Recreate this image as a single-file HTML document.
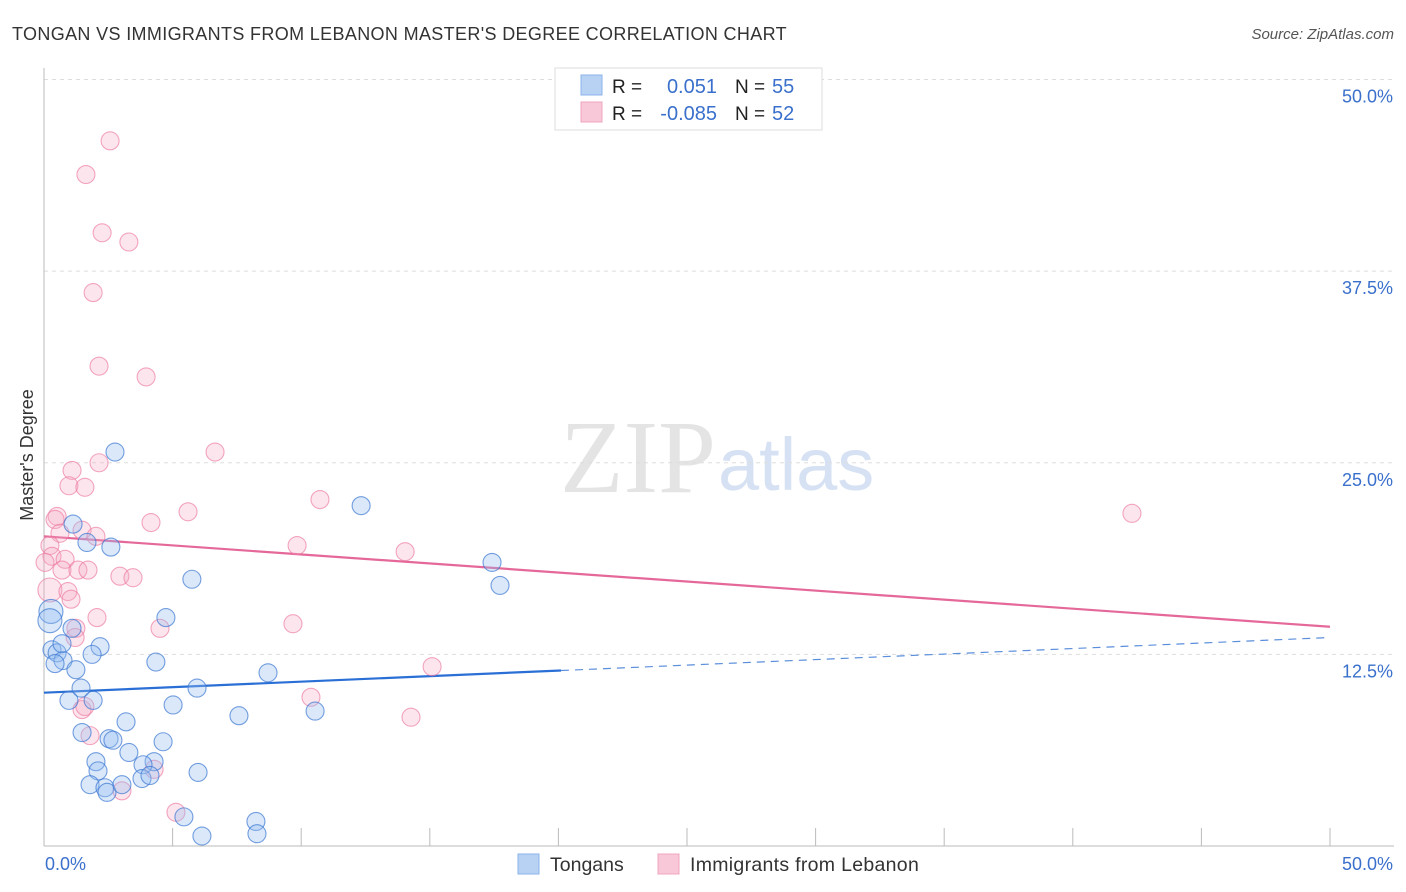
<!DOCTYPE html>
<html><head><meta charset="utf-8"><style>
body{margin:0;background:#fff;font-family:"Liberation Sans",sans-serif;}
#wrap{position:relative;width:1406px;height:892px;overflow:hidden}
</style></head><body>
<div id="wrap">
<svg id="svg" width="1406" height="892" xmlns="http://www.w3.org/2000/svg">
<text x="12" y="40" font-size="18" fill="#333" letter-spacing="0.35">TONGAN VS IMMIGRANTS FROM LEBANON MASTER'S DEGREE CORRELATION CHART</text>
<text x="1394" y="39" font-size="15" fill="#555" font-style="italic" text-anchor="end">Source: ZipAtlas.com</text>
<text x="33" y="455" font-size="18" fill="#333" text-anchor="middle" transform="rotate(-90 33 455)">Master's Degree</text>
<text x="716" y="492" font-size="104" fill="#e4e4e4" text-anchor="end" font-family="Liberation Serif,serif">ZIP</text>
<text x="718" y="490" font-size="74" fill="#d6e2f3">atlas</text>
<g id="grid"></g><g id="axes"></g><g id="lines"></g><g id="pts"></g>
<g>
<rect x="555" y="68" width="267" height="62" fill="#fff" stroke="#ddd"/>
<rect x="581" y="75" width="21" height="20" fill="#b8d2f4" stroke="#8cb3ea"/>
<rect x="581" y="102" width="21" height="20" fill="#f9c8d8" stroke="#f0a4bd"/>
<text x="612" y="93" font-size="19" fill="#222">R =</text><text x="717" y="93" font-size="20" fill="#3a70cc" text-anchor="end">0.051</text>
<text x="735" y="93" font-size="19" fill="#222">N =</text><text x="772" y="93" font-size="20" fill="#3a70cc">55</text>
<text x="612" y="120" font-size="19" fill="#222">R =</text><text x="717" y="120" font-size="20" fill="#3a70cc" text-anchor="end">-0.085</text>
<text x="735" y="120" font-size="19" fill="#222">N =</text><text x="772" y="120" font-size="20" fill="#3a70cc">52</text>
</g>
<g>
<rect x="518" y="854" width="21" height="20" fill="#b8d2f4" stroke="#8cb3ea"/>
<text x="550" y="871" font-size="19.5" fill="#333">Tongans</text>
<rect x="658" y="854" width="21" height="20" fill="#f9c8d8" stroke="#f0a4bd"/>
<text x="690" y="871" font-size="19.5" fill="#333" letter-spacing="0.3">Immigrants from Lebanon</text>
</g>
</svg>
</div>
<script>
const yTicks=[12.5,25,37.5,50];
const yTickLabels=["12.5%","25.0%","37.5%","50.0%"];
const xTicks=[0,5,10,15,20,25,30,35,40,45,50];
const blueX=[2.76,1.13,1.67,2.60,5.75,4.74,1.09,0.27,0.23,0.31,0.51,0.74,0.43,0.70,1.24,2.18,1.87,4.35,8.71,5.95,1.44,0.97,1.91,5.02,7.58,10.54,3.19,1.48,2.53,2.68,4.63,3.30,2.02,2.10,4.28,3.85,3.81,4.12,5.99,1.79,2.37,2.45,3.03,5.44,8.24,8.28,6.14,12.33,17.42,17.73];
const blueY=[25.7,21.0,19.8,19.5,17.4,14.9,14.2,15.3,14.7,12.8,12.6,12.1,11.9,13.2,11.5,13.0,12.5,12.0,11.3,10.3,10.3,9.5,9.5,9.2,8.5,8.8,8.1,7.4,7.0,6.9,6.8,6.1,5.5,4.9,5.5,5.3,4.4,4.6,4.8,4.0,3.8,3.5,4.0,1.9,1.6,0.8,0.65,22.2,18.5,17.0];
const pinkX=[2.57,1.63,2.26,3.30,1.91,2.14,3.97,6.65,1.09,2.14,0.97,1.59,10.73,42.30,5.60,4.16,0.51,0.43,1.48,0.62,2.02,9.84,14.04,0.23,0.31,0.04,0.82,0.70,1.32,1.71,2.95,3.46,0.23,0.93,1.05,2.06,4.51,1.24,1.21,9.68,15.09,1.48,1.59,1.79,4.28,3.03,5.13,10.38,14.27];
const pinkY=[46.0,43.8,40.0,39.4,36.1,31.3,30.6,25.7,24.5,25.0,23.5,23.4,22.6,21.7,21.8,21.1,21.5,21.3,20.6,20.4,20.2,19.6,19.2,19.6,18.9,18.5,18.7,18.0,18.0,18.0,17.6,17.5,16.7,16.6,16.1,14.9,14.2,14.2,13.6,14.5,11.7,8.9,9.1,7.2,5.0,3.6,2.2,9.7,8.4];
const blueTrend=[10.0,13.6];
const pinkTrend=[20.2,14.3];
const blueSolidEnd=20.1;

const NS="http://www.w3.org/2000/svg";
const X=v=>44+v*25.72, Y=v=>846-v*15.33;
function mk(tag,attrs,parent){const e=document.createElementNS(NS,tag);for(const k in attrs)e.setAttribute(k,attrs[k]);document.getElementById(parent).appendChild(e);return e;}
yTicks.forEach((t,i)=>{
 const g=mk('line',{x1:44,x2:1394,y1:Y(t),y2:Y(t),stroke:'#ddd','stroke-dasharray':'4,4'},'grid');
 
 
 const tx=mk('text',{x:1393,y:Y(t)+23,'font-size':18,fill:'#3a70cc','text-anchor':'end'},'grid');
 tx.textContent=yTickLabels[i];
 
 
});
const ax=mk('line',{x1:44,x2:1394,y1:846,y2:846,stroke:'#bbb'},'axes');


const ay=mk('line',{x1:44,x2:44,y1:68,y2:846,stroke:'#bbb'},'axes');


xTicks.forEach(t=>{
 if(t===0)return;
 const l=mk('line',{x1:X(t),x2:X(t),y1:828,y2:846,stroke:'#bbb'},'axes');
 
 
});
const x0=mk('text',{x:45,y:870,'font-size':18,fill:'#3a70cc'},'axes');x0.textContent='0.0%';


const x1=mk('text',{x:1393,y:870,'font-size':18,fill:'#3a70cc','text-anchor':'end'},'axes');x1.textContent='50.0%';


function drawPts(xs,ys,fill,stroke,name){
 xs.forEach((x,i)=>{
  const big=(x<0.3&&(ys[i]>14.5&&ys[i]<17));
  const c=mk('circle',{cx:X(x),cy:Y(ys[i]),r:big?12:9,fill:fill,stroke:stroke,'stroke-width':1.1},'pts');
  
  
 });
}
drawPts(pinkX,pinkY,'rgba(246,170,196,0.3)','rgba(236,120,160,0.65)','lebanon-point');
drawPts(blueX,blueY,'rgba(150,190,240,0.35)','rgba(60,120,210,0.7)','tongan-point');
const bt=v=>blueTrend[0]+(blueTrend[1]-blueTrend[0])*v/50;
const pt=v=>pinkTrend[0]+(pinkTrend[1]-pinkTrend[0])*v/50;
const l1=mk('line',{x1:X(0),y1:Y(pt(0)),x2:X(50),y2:Y(pt(50)),stroke:'#e5689a','stroke-width':2.2},'lines');


const l2=mk('line',{x1:X(0),y1:Y(bt(0)),x2:X(blueSolidEnd),y2:Y(bt(blueSolidEnd)),stroke:'#2a6fd6','stroke-width':2.2},'lines');


const l3=mk('line',{x1:X(blueSolidEnd),y1:Y(bt(blueSolidEnd)),x2:X(50),y2:Y(bt(50)),stroke:'#5b8fdc','stroke-width':1.2,'stroke-dasharray':'8,6'},'lines');


</script>
</body></html>
